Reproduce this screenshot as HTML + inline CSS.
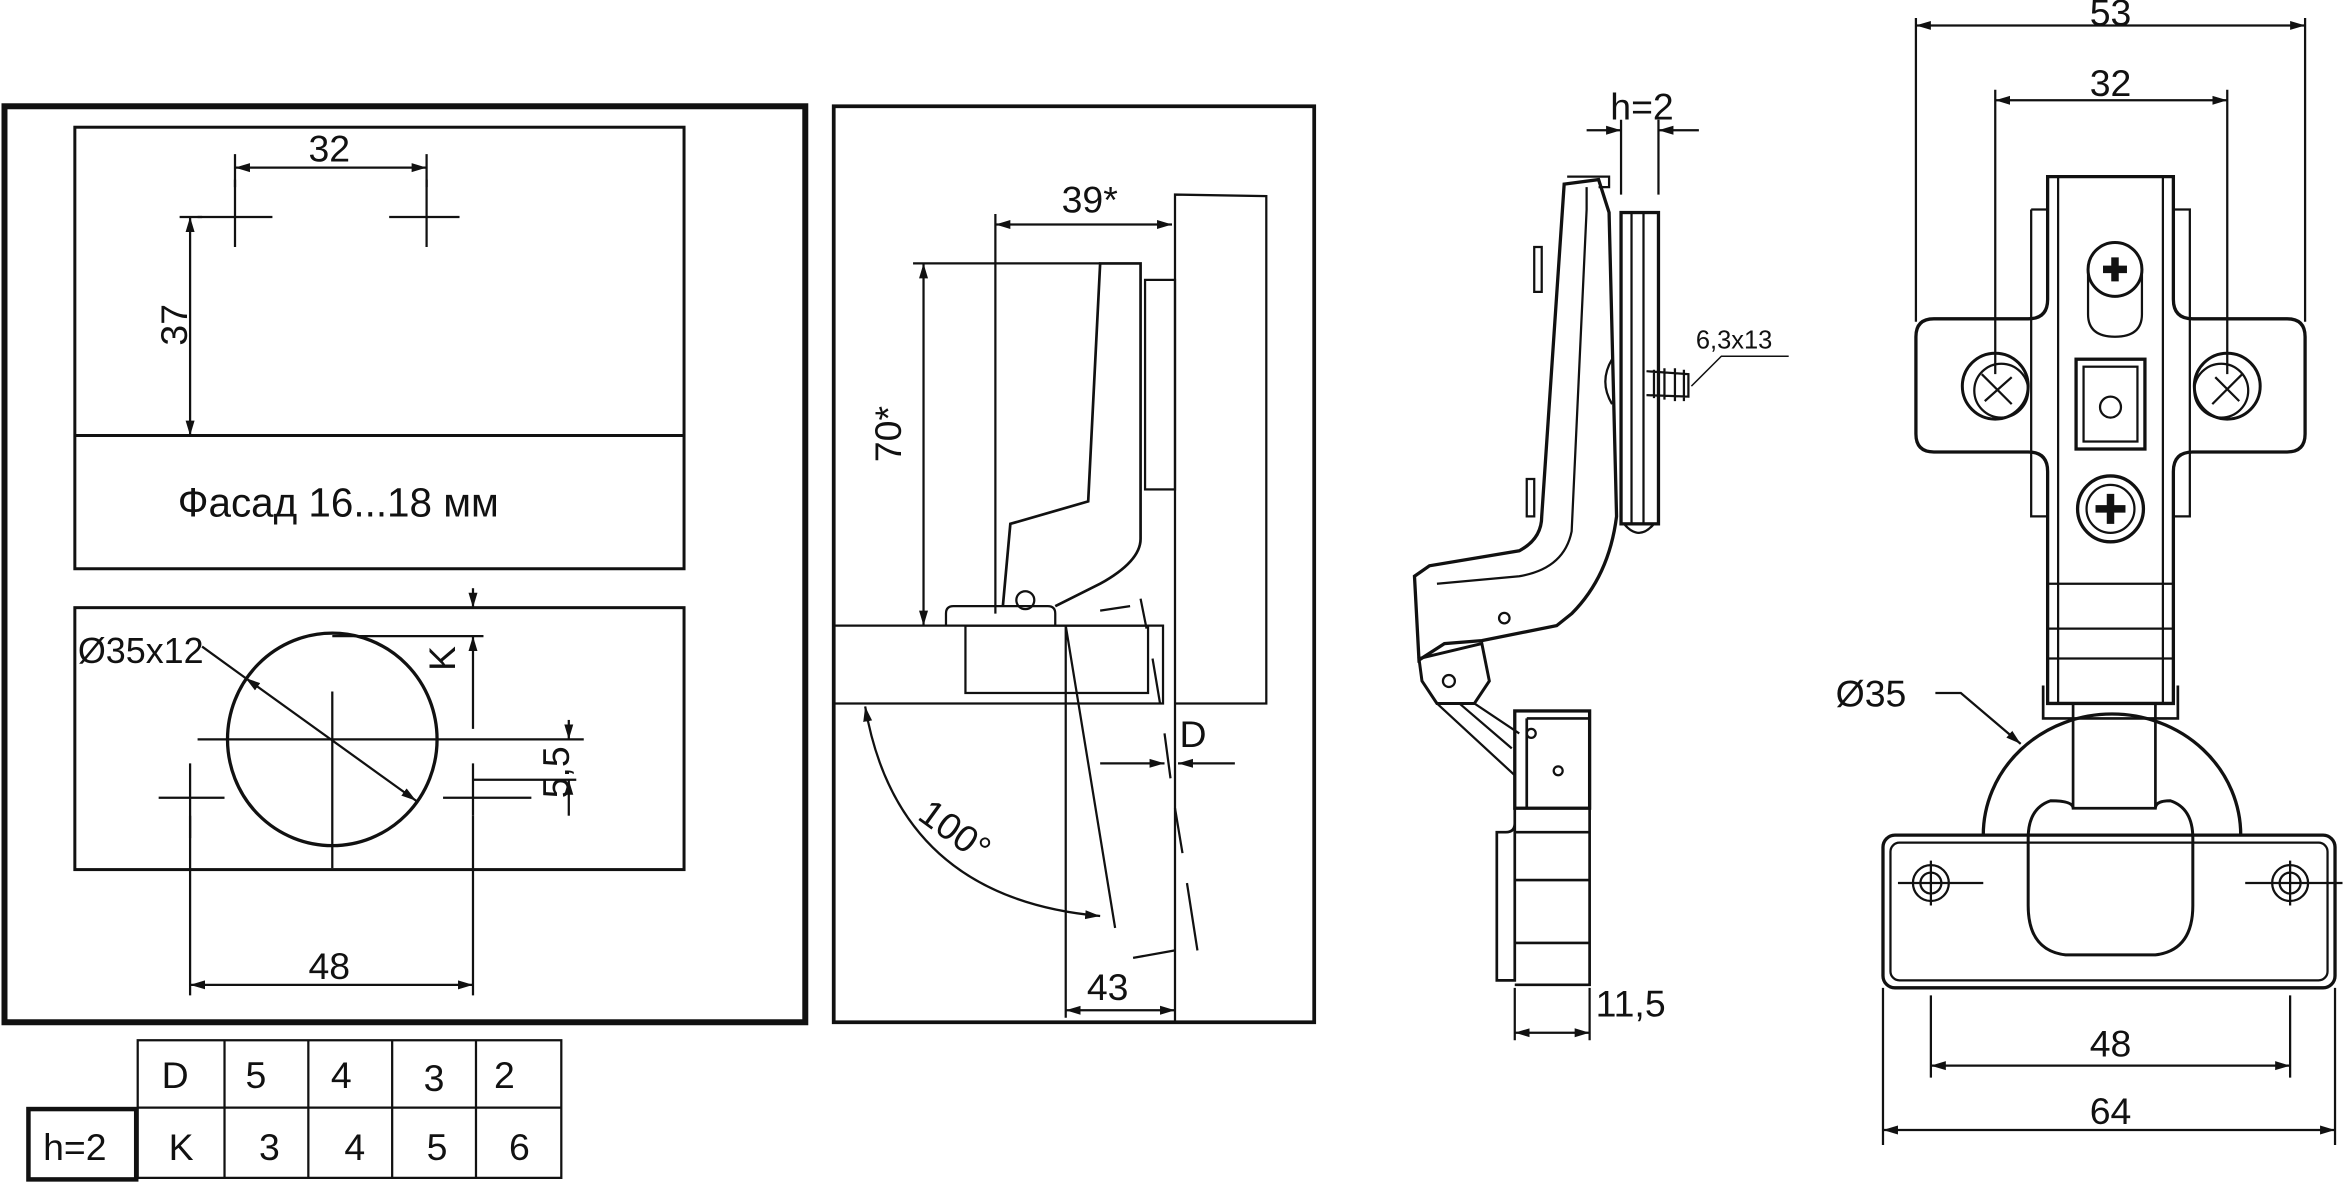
<!DOCTYPE html>
<html><head><meta charset="utf-8"><style>
html,body{margin:0;padding:0;background:#fff;width:2347px;height:1183px;overflow:hidden}
svg{display:block}
text{font-family:"Liberation Sans",sans-serif;fill:#111}
</style></head><body>
<svg width="2347" height="1183" viewBox="0 0 1568 790.4" preserveAspectRatio="none">
<defs>
<marker id="a" viewBox="0 0 10 10" refX="10" refY="5" markerWidth="10" markerHeight="10" orient="auto-start-reverse" markerUnits="userSpaceOnUse"><path d="M0,2 L10,5 L0,8 z" fill="#111"/></marker>
</defs>
<g fill="none" stroke="#111" stroke-width="1.5">
<!-- LEFT PANEL -->
<rect x="3" y="71" width="535" height="612" stroke-width="4"/>
<rect x="50" y="85" width="407" height="295" stroke-width="2"/>
<line x1="50" y1="291" x2="457" y2="291" stroke-width="2"/>
<path d="M132 145H182M157 120V165M260 145H307M285 120V165"/>
<path d="M157 103V125M285 103V125"/>
<line x1="157" y1="112" x2="285" y2="112" marker-start="url(#a)" marker-end="url(#a)"/>
<line x1="127" y1="145" x2="127" y2="291" marker-start="url(#a)" marker-end="url(#a)"/>
<line x1="120" y1="145" x2="135" y2="145"/>
<rect x="50" y="406" width="407" height="175" stroke-width="2"/>
<ellipse cx="222" cy="494" rx="70" ry="71" stroke-width="2.2"/>
<path d="M132 494H390M222 462V580M106 533H150M127 510V560M296 533H355M316 510V545"/>
<line x1="135" y1="432" x2="164" y2="453"/>
<line x1="164" y1="453" x2="278" y2="535" marker-start="url(#a)" marker-end="url(#a)"/>
<path d="M222 425H323"/>
<line x1="316" y1="393" x2="316" y2="406" marker-end="url(#a)"/>
<line x1="316" y1="487" x2="316" y2="425" marker-end="url(#a)"/>
<line x1="380" y1="481" x2="380" y2="494" marker-end="url(#a)"/>
<line x1="380" y1="545" x2="380" y2="521" marker-end="url(#a)"/>
<path d="M316 521H385"/>
<path d="M127 545V665M316 545V665"/>
<line x1="127" y1="658" x2="316" y2="658" marker-start="url(#a)" marker-end="url(#a)"/>
<!-- TABLE -->
<path d="M92 695H375V787H92ZM92 740H375M150 695V787M206 695V787M262 695V787M318 695V787"/>
<rect x="19" y="741" width="72" height="47" stroke-width="3"/>
<!-- MIDDLE PANEL -->
<rect x="557" y="71" width="321" height="612" stroke-width="2.5"/>
<path d="M785 470V130L846 131V470H785" />
<path d="M557 418H777V470H557"/>
<rect x="765" y="187" width="20" height="140"/>
<rect x="645" y="418" width="122" height="45"/>
<path d="M632 418V410Q632 405 637 405H700Q705 405 705 410V418"/>
<path d="M670 405L675 350L727 335L735 176H762V360Q762 375 735 390L705 405" stroke-width="1.8"/>
<circle cx="685" cy="401" r="6"/>
<path d="M665 143V410M610 176H735"/>
<line x1="665" y1="150" x2="783" y2="150" marker-start="url(#a)" marker-end="url(#a)"/>
<line x1="617" y1="176" x2="617" y2="418" marker-start="url(#a)" marker-end="url(#a)"/>
<path d="M712 418L745 620M712 418V680M785 470V683"/>
<path d="M735 408L755 405M762 400L766 420M770 440L775 470M778 490L782 520M785 540L790 570M793 590L800 635M757 640L785 635"/>
<line x1="735" y1="510" x2="778" y2="510" marker-end="url(#a)"/>
<line x1="825" y1="510" x2="787" y2="510" marker-end="url(#a)"/>
<path d="M578 472Q600 600 735 612" marker-start="url(#a)" marker-end="url(#a)"/>
<line x1="712" y1="675" x2="785" y2="675" marker-start="url(#a)" marker-end="url(#a)"/>
<!-- SIDE VIEW -->
<path d="M1047 118H1075V125H1068"/>
<path d="M1045 123L1068 120L1075 142L1080 345Q1075 385 1050 410L1040 418L990 428L965 430L948 441L945 385L955 378L1015 368Q1030 360 1030 345Z" stroke-width="2.2"/>
<path d="M1060 125L1060 140L1050 355Q1045 380 1015 385L960 390"/>
<path d="M1025 165H1030V195H1025ZM1020 320H1025V345H1020Z"/>
<rect x="1083" y="142" width="25" height="208" stroke-width="2.2"/>
<path d="M1090 142V350M1098 142V350M1085 350Q1095 362 1105 350"/>
<path d="M1083 130V80M1108 130V80"/>
<line x1="1060" y1="87" x2="1083" y2="87" marker-end="url(#a)"/>
<line x1="1135" y1="87" x2="1108" y2="87" marker-end="url(#a)"/>
<path d="M1077 240Q1068 255 1077 270"/>
<path d="M1100 248L1128 250V265L1100 264M1105 247V266M1112 246V267M1119 246V268M1125 247V268"/>
<path d="M1130 258L1150 238H1195" stroke-width="1"/>
<path d="M948 440L990 430L995 455L985 470L960 470L950 455Z" stroke-width="2"/>
<circle cx="968" cy="455" r="4"/><circle cx="1005" cy="413" r="3.5"/>
<path d="M960 470L1012 518M975 470L1010 500M985 470L1015 490"/>
<rect x="1012" y="475" width="50" height="65" stroke-width="2.2"/>
<path d="M1012 540V550Q1012 556 1006 556H1000V655H1012V540M1012 556H1062V658H1012M1012 588H1062M1012 630H1062M1062 540V556M1020 480H1062M1020 480V540" stroke-width="1.8"/>
<circle cx="1023" cy="490" r="3"/><circle cx="1041" cy="515" r="3"/>
<path d="M1012 660V695M1062 660V695"/>
<line x1="1012" y1="690" x2="1062" y2="690" marker-start="url(#a)" marker-end="url(#a)"/>
<!-- FRONT VIEW -->
<path d="M1280 12V215M1540 12V215M1333 60V250M1488 60V250"/>
<line x1="1280" y1="17" x2="1540" y2="17" marker-start="url(#a)" marker-end="url(#a)"/>
<line x1="1333" y1="67" x2="1488" y2="67" marker-start="url(#a)" marker-end="url(#a)"/>
<path d="M1292 213H1355Q1368 213 1368 200V118H1452V200Q1452 213 1465 213H1528Q1540 213 1540 225V290Q1540 302 1528 302H1465Q1452 302 1452 315V470H1368V315Q1368 302 1355 302H1292Q1280 302 1280 290V225Q1280 213 1292 213Z" stroke-width="2.2"/>
<path d="M1357 140H1368M1357 140V345H1368M1452 140H1463V345H1452M1375 118V470M1445 118V470M1368 390H1452M1368 420H1452M1368 440H1452"/>
<circle cx="1333" cy="258" r="22" stroke-width="2"/><circle cx="1337" cy="261" r="18"/>
<circle cx="1488" cy="258" r="22" stroke-width="2"/><circle cx="1484" cy="261" r="18"/>
<path d="M1324 250L1344 270M1344 252L1326 268M1478 270L1498 250M1480 252L1496 268"/>
<path d="M1395 180V210Q1395 225 1413 225Q1431 225 1431 210V180"/>
<circle cx="1413" cy="180" r="18" stroke-width="2"/>
<path d="M1405 180H1421M1413 172V188" stroke-width="5"/>
<rect x="1387" y="240" width="46" height="60" stroke-width="2.2"/><rect x="1392" y="245" width="36" height="50"/>
<circle cx="1410" cy="272" r="7"/>
<circle cx="1410" cy="340" r="22" stroke-width="2.2"/><circle cx="1410" cy="340" r="16"/>
<path d="M1400 340H1420M1410 330V350" stroke-width="5"/>
<path d="M1365 458V480H1455V458M1385 470H1440V540H1385Z" stroke-width="1.8"/>
<path d="M1325 558A85 80 0 0 1 1497 558" stroke-width="2.2"/>
<rect x="1258" y="558" width="302" height="102" rx="8" stroke-width="2.2"/>
<rect x="1263" y="563" width="292" height="92" rx="6"/>
<path d="M1385 540Q1385 535 1370 535Q1355 540 1355 560V605Q1355 635 1380 638H1440Q1465 635 1465 605V560Q1465 540 1450 535Q1440 535 1440 540" stroke-width="2"/>
<circle cx="1290" cy="590" r="12"/><circle cx="1290" cy="590" r="7"/>
<circle cx="1530" cy="590" r="12"/><circle cx="1530" cy="590" r="7"/>
<path d="M1268 590H1325M1290 575V605M1500 590H1565M1530 575V605"/>
<path d="M1293 463H1310L1350 497" marker-end="url(#a)"/>
<path d="M1290 665V720M1530 665V720M1258 660V765M1560 660V765"/>
<line x1="1290" y1="712" x2="1530" y2="712" marker-start="url(#a)" marker-end="url(#a)"/>
<line x1="1258" y1="755" x2="1560" y2="755" marker-start="url(#a)" marker-end="url(#a)"/>
</g>
<g font-size="25">
<text x="220" y="108" text-anchor="middle">32</text>
<text transform="translate(125,217) rotate(-90)" text-anchor="middle">37</text>
<text x="226" y="345" text-anchor="middle" font-size="27">Фасад 16...18 мм</text>
<text x="52" y="443" font-size="24">Ø35x12</text>
<text transform="translate(304,440) rotate(-90)" text-anchor="middle">K</text>
<text transform="translate(380,516) rotate(-90)" text-anchor="middle">5,5</text>
<text x="220" y="654" text-anchor="middle">48</text>
<text x="117" y="727" text-anchor="middle">D</text>
<text x="171" y="727" text-anchor="middle">5</text>
<text x="228" y="727" text-anchor="middle">4</text>
<text x="290" y="729" text-anchor="middle">3</text>
<text x="337" y="727" text-anchor="middle">2</text>
<text x="50" y="775" text-anchor="middle">h=2</text>
<text x="121" y="775" text-anchor="middle">K</text>
<text x="180" y="775" text-anchor="middle">3</text>
<text x="237" y="775" text-anchor="middle">4</text>
<text x="292" y="775" text-anchor="middle">5</text>
<text x="347" y="775" text-anchor="middle">6</text>
<text x="728" y="142" text-anchor="middle">39*</text>
<text transform="translate(602,290) rotate(-90)" text-anchor="middle">70*</text>
<text x="797" y="499" text-anchor="middle">D</text>
<text transform="translate(633,562) rotate(36)" text-anchor="middle">100°</text>
<text x="740" y="668" text-anchor="middle">43</text>
<text x="1097" y="80" text-anchor="middle">h=2</text>
<text x="1133" y="233" font-size="17">6,3x13</text>
<text x="1066" y="679">11,5</text>
<text x="1410" y="17" text-anchor="middle">53</text>
<text x="1410" y="64" text-anchor="middle">32</text>
<text x="1250" y="472" text-anchor="middle">Ø35</text>
<text x="1410" y="706" text-anchor="middle">48</text>
<text x="1410" y="751" text-anchor="middle">64</text>
</g>
</svg>
</body></html>
